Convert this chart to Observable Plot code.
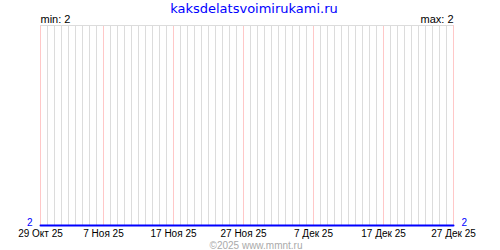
<!DOCTYPE html>
<html>
<head>
<meta charset="utf-8">
<script src="https://cdn.jsdelivr.net/npm/d3@7"></script>
<script src="https://cdn.jsdelivr.net/npm/@observablehq/plot@0.6"></script>
<style>
  html, body { margin: 0; padding: 0; background: #fff; }
</style>
</head>
<body>
<div id="chart"></div>
<script>
// ---- data ----
const startDate = "2025-10-29";
const endDate = "2025-12-27";
const values = [
  2, 2, 2, 2, 2, 2, 2, 2, 2, 2,
  2, 2, 2, 2, 2, 2, 2, 2, 2, 2,
  2, 2, 2, 2, 2, 2, 2, 2, 2, 2,
  2, 2, 2, 2, 2, 2, 2, 2, 2, 2,
  2, 2, 2, 2, 2, 2, 2, 2, 2, 2,
  2, 2, 2, 2, 2, 2, 2, 2, 2, 2
];
const tickDates = ["2025-10-29", "2025-11-07", "2025-11-17", "2025-11-27", "2025-12-07", "2025-12-17", "2025-12-27"];
const tickLabels = ["29 Окт 25", "7 Ноя 25", "17 Ноя 25", "27 Ноя 25", "7 Дек 25", "17 Дек 25", "27 Дек 25"];
const yDomain = [2, 3];
const titleText = "kaksdelatsvoimirukami.ru";
const minText = "min: 2";
const maxText = "max: 2";
const footerText = "©2025 www.mmnt.ru";

// ---- build ----
const days = d3.utcDay.range(new Date(startDate), d3.utcDay.offset(new Date(endDate), 1));
const series = days.map((d, i) => ({date: d, value: values[i]}));
const ticks = tickDates.map(s => new Date(s));
const labelOf = new Map(ticks.map((d, i) => [+d, tickLabels[i]]));
const first = series[0], last = series[series.length - 1];

const chart = Plot.plot({
  width: 500,
  height: 250,
  marginLeft: 40,
  marginRight: 47,
  marginTop: 25,
  marginBottom: 25,
  style: {fontFamily: "'Liberation Sans', Arial, sans-serif", fontSize: "10px", background: "#fff", color: "#000"},
  x: {type: "utc", domain: [new Date(startDate), new Date(endDate)]},
  y: {domain: yDomain, axis: null},
  marks: [
    Plot.ruleX(days, {stroke: "#dcdcdc", strokeWidth: 1}),
    Plot.ruleX(ticks, {stroke: "#ffc8c8", strokeWidth: 1}),
    Plot.ruleY([yDomain[1]], {stroke: "#dcdcdc", strokeWidth: 1}),
    Plot.axisX({ticks, tickFormat: d => labelOf.get(+d), tickSize: 0, tickPadding: 4, fontSize: 10, fill: "#000"}),
    Plot.lineY(series, {x: "date", y: "value", stroke: "#0000ff", strokeWidth: 2}),
    Plot.text([first], {x: "date", y: "value", text: d => String(d.value), textAnchor: "end", lineAnchor: "bottom", dx: -8, dy: 0, fill: "#0000ff", fontSize: 10}),
    Plot.text([last], {x: "date", y: "value", text: d => String(d.value), textAnchor: "start", lineAnchor: "bottom", dx: 8, dy: 0, fill: "#0000ff", fontSize: 10}),
    Plot.text([minText], {frameAnchor: "top-left", text: d => d, textAnchor: "start", lineAnchor: "bottom", dy: -3, fontSize: 11, fill: "#000"}),
    Plot.text([maxText], {frameAnchor: "top-right", text: d => d, textAnchor: "end", lineAnchor: "bottom", dy: -3, fontSize: 11, fill: "#000"}),
    Plot.text([titleText], {frameAnchor: "top", text: d => d, lineAnchor: "bottom", dy: -12.5, dx: 7, fontSize: 13, fill: "#0000ff", fontFamily: "'DejaVu Sans', sans-serif", letterSpacing: "0.5px"}),
    Plot.text([footerText], {frameAnchor: "bottom", text: d => d, lineAnchor: "bottom", dy: 23, dx: 9, fontSize: 10, fill: "#aaaaaa"})
  ]
});
document.getElementById("chart").appendChild(chart);
</script>
</body>
</html>
